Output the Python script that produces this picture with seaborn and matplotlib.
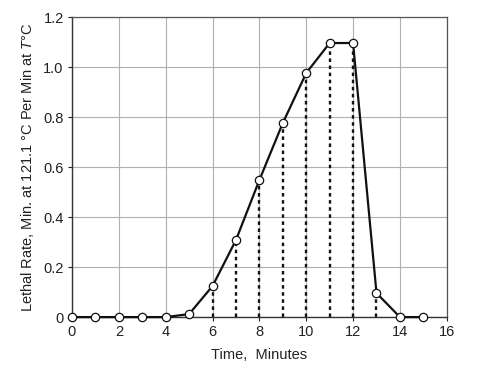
import matplotlib
matplotlib.use("Agg")
import matplotlib.pyplot as plt
import seaborn as sns
import pandas as pd

time_min = [0, 1, 2, 3, 4, 5, 6, 7, 8, 9, 10, 11, 12, 13, 14, 15]
lethal_rate = [0, 0, 0, 0, 0, 0.012, 0.124, 0.308, 0.548, 0.776, 0.976, 1.096, 1.096, 0.096, 0, 0]
dotted_times = [6, 7, 8, 9, 10, 11, 12, 13]
x_ticks = [0, 2, 4, 6, 8, 10, 12, 14, 16]
y_ticks = [0, 0.2, 0.4, 0.6, 0.8, 1.0, 1.2]
y_tick_labels = ["0", "0.2", "0.4", "0.6", "0.8", "1.0", "1.2"]

sns.set_theme(style="white")
plt.rcParams['font.family'] = ['Liberation Sans', 'DejaVu Sans']
plt.rcParams['mathtext.fontset'] = 'custom'
plt.rcParams['mathtext.it'] = 'Liberation Sans:italic'
plt.rcParams['mathtext.rm'] = 'Liberation Sans'

df = pd.DataFrame({"t": time_min, "L": lethal_rate})

fig = plt.figure(figsize=(4.83, 3.70), dpi=100)
ax = fig.add_axes([0.149, 0.143, 0.776, 0.811])

ax.set_xlim(0, 16)
ax.set_ylim(0, 1.2)
ax.set_xticks(x_ticks)
ax.set_yticks(y_ticks)
ax.set_yticklabels(y_tick_labels)
ax.grid(True, color="#b0b0b0", linewidth=0.8)
ax.set_axisbelow(True)

dot_vals = [lethal_rate[time_min.index(t)] for t in dotted_times]
ax.vlines(dotted_times, 0, dot_vals, colors="#111111", linestyles=(0, (1.5, 1.5)), linewidth=1.7, zorder=2)

sns.lineplot(data=df, x="t", y="L", ax=ax, color="#111111", linewidth=1.6,
             marker="o", markersize=6, markerfacecolor="white",
             markeredgecolor="#111111", markeredgewidth=0.9, zorder=3, clip_on=False)

for s in ["left", "bottom"]:
    ax.spines[s].set_color("#333333")
    ax.spines[s].set_linewidth(1.0)
for s in ["top", "right"]:
    ax.spines[s].set_color("#555555")
    ax.spines[s].set_linewidth(0.9)

ax.tick_params(axis="both", which="major", labelsize=10.5, colors="#222222",
               length=3, width=0.8, direction="out", left=True, bottom=True, pad=3)
ax.set_xlabel("Time,  Minutes", fontsize=10.5, color="#222222", labelpad=6)
ax.set_ylabel("Lethal Rate, Min. at 121.1 °C Per Min at $\\mathit{T}$°C", fontsize=10.5, color="#222222", labelpad=5)

fig.savefig("out.png", dpi=100)
